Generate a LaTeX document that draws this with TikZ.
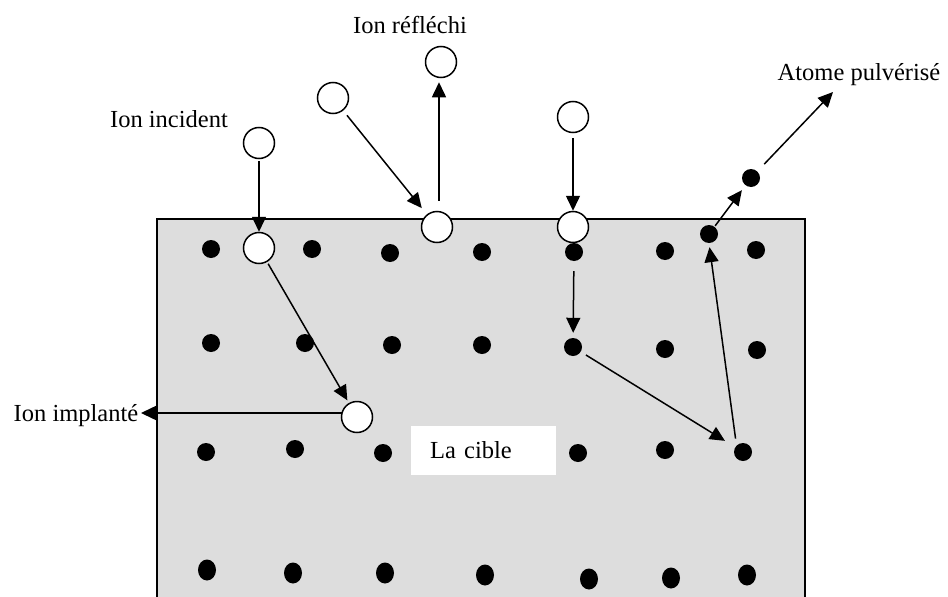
\documentclass[tikz,border=0pt]{standalone}
\usepackage{fontspec}
\setmainfont{Liberation Serif}
\usetikzlibrary{arrows.meta,shapes.geometric}
\begin{document}
\begin{tikzpicture}[x=1pt,y=-1pt,
  ion/.style={circle,draw=black,line width=1.5pt,fill=white,minimum size=31pt,inner sep=0pt},
  atom/.style={circle,fill=black,minimum size=18pt,inner sep=0pt},
  atomb/.style={ellipse,fill=black,minimum width=18pt,minimum height=21pt,inner sep=0pt},
  arr/.style={line width=1.5pt,-{Triangle[length=15pt,width=14pt]}},
  lbl/.style={font=\fontsize{24.5}{29}\selectfont,inner sep=0pt,anchor=base}]
\useasboundingbox (0,0) rectangle (948,597);
\fill[gray!27] (157,219) rectangle (805,597);
\draw[line width=1.8pt] (157,597) -- (157,219) -- (805,219) -- (805,597);
% target box
\node[fill=white,inner xsep=19pt,inner ysep=0pt,minimum height=49pt,minimum width=145pt,text width=107pt,align=left,anchor=west,font=\fontsize{24.5}{29}\selectfont] (cible) at (411,450.5) {La cible};
% row 1
\node[atom] (r1a) at (211,249) {};
\node[atom] (r1b) at (312,249) {};
\node[atom] (r1c) at (390,253) {};
\node[atom] (r1d) at (482,252) {};
\node[atom] (r1e) at (574,252) {};
\node[atom] (r1f) at (665,251) {};
\node[atom] (r1g) at (756,250) {};
\node[atom] (ej) at (709,234) {};
\node[atom] (sp) at (751,178) {};
% row 2
\node[atom] (r2a) at (211,343) {};
\node[atom] (r2b) at (305,343) {};
\node[atom] (r2c) at (392,345) {};
\node[atom] (r2d) at (482,345) {};
\node[atom] (r2e) at (573,347) {};
\node[atom] (r2f) at (665,349) {};
\node[atom] (r2g) at (757,350) {};
% row 3
\node[atom] (r3a) at (206,452) {};
\node[atom] (r3b) at (295,449) {};
\node[atom] (r3c) at (383,453) {};
\node[atom] (r3d) at (578,453) {};
\node[atom] (r3e) at (665,450) {};
\node[atom] (r3f) at (743,452) {};
% row 4
\node[atomb] (r4a) at (207,570) {};
\node[atomb] (r4b) at (293,573) {};
\node[atomb] (r4c) at (385,573) {};
\node[atomb] (r4d) at (485,575) {};
\node[atomb] (r4e) at (589,579) {};
\node[atomb] (r4f) at (671,578) {};
\node[atomb] (r4g) at (747,575) {};
% ions
\node[ion] (ionA) at (259,143) {};
\node[ion] (ionB) at (259,248) {};
\node[ion] (ionC) at (333,98) {};
\node[ion] (ionD) at (437,227) {};
\node[ion] (ionE) at (441,62) {};
\node[ion] (ionF) at (573,117) {};
\node[ion] (ionG) at (573,227) {};
\node[ion] (ionH) at (357,417) {};
% labels
\node[lbl] (lInc) at (169,127) {Ion incident};
\node[lbl] (lRef) at (410,33) {Ion réfléchi};
\node[lbl] (lPul) at (859,80) {Atome pulvérisé};
\node[lbl] (lImp) at (76,421) {Ion implanté};
\coordinate (pEnd) at (833,92);
\coordinate (iEnd) at (141,413);
% arrows
\draw[arr,shorten <=2pt] (ionA) -- (ionB);
\draw[arr,shorten <=6pt,shorten >=8pt] (ionC) -- (ionD);
\draw[arr,shorten <=10pt,shorten >=4pt] (ionD.north -| 439,0) -- (ionE.south -| 439,0);
\draw[arr,shorten <=5pt] (ionF) -- (ionG);
\draw[arr,shorten <=10pt,shorten >=5pt] (r1e) -- (r2e);
\draw[arr,shorten <=6pt,shorten >=12pt] (r2e) -- (r3f);
\draw[arr,shorten <=7pt,shorten >=4pt] (r3f.north west) -- (ej.south);
\draw[arr,shorten <=1pt,shorten >=6pt] (ej) -- (sp);
\draw[arr,shorten <=10pt] (sp) -- (pEnd);
\draw[arr,shorten <=2pt,shorten >=3pt] (ionB) -- (ionH);
\draw[arr] ([yshift=4pt,xshift=1pt]ionH.west) -- (iEnd);
\end{tikzpicture}
\end{document}
